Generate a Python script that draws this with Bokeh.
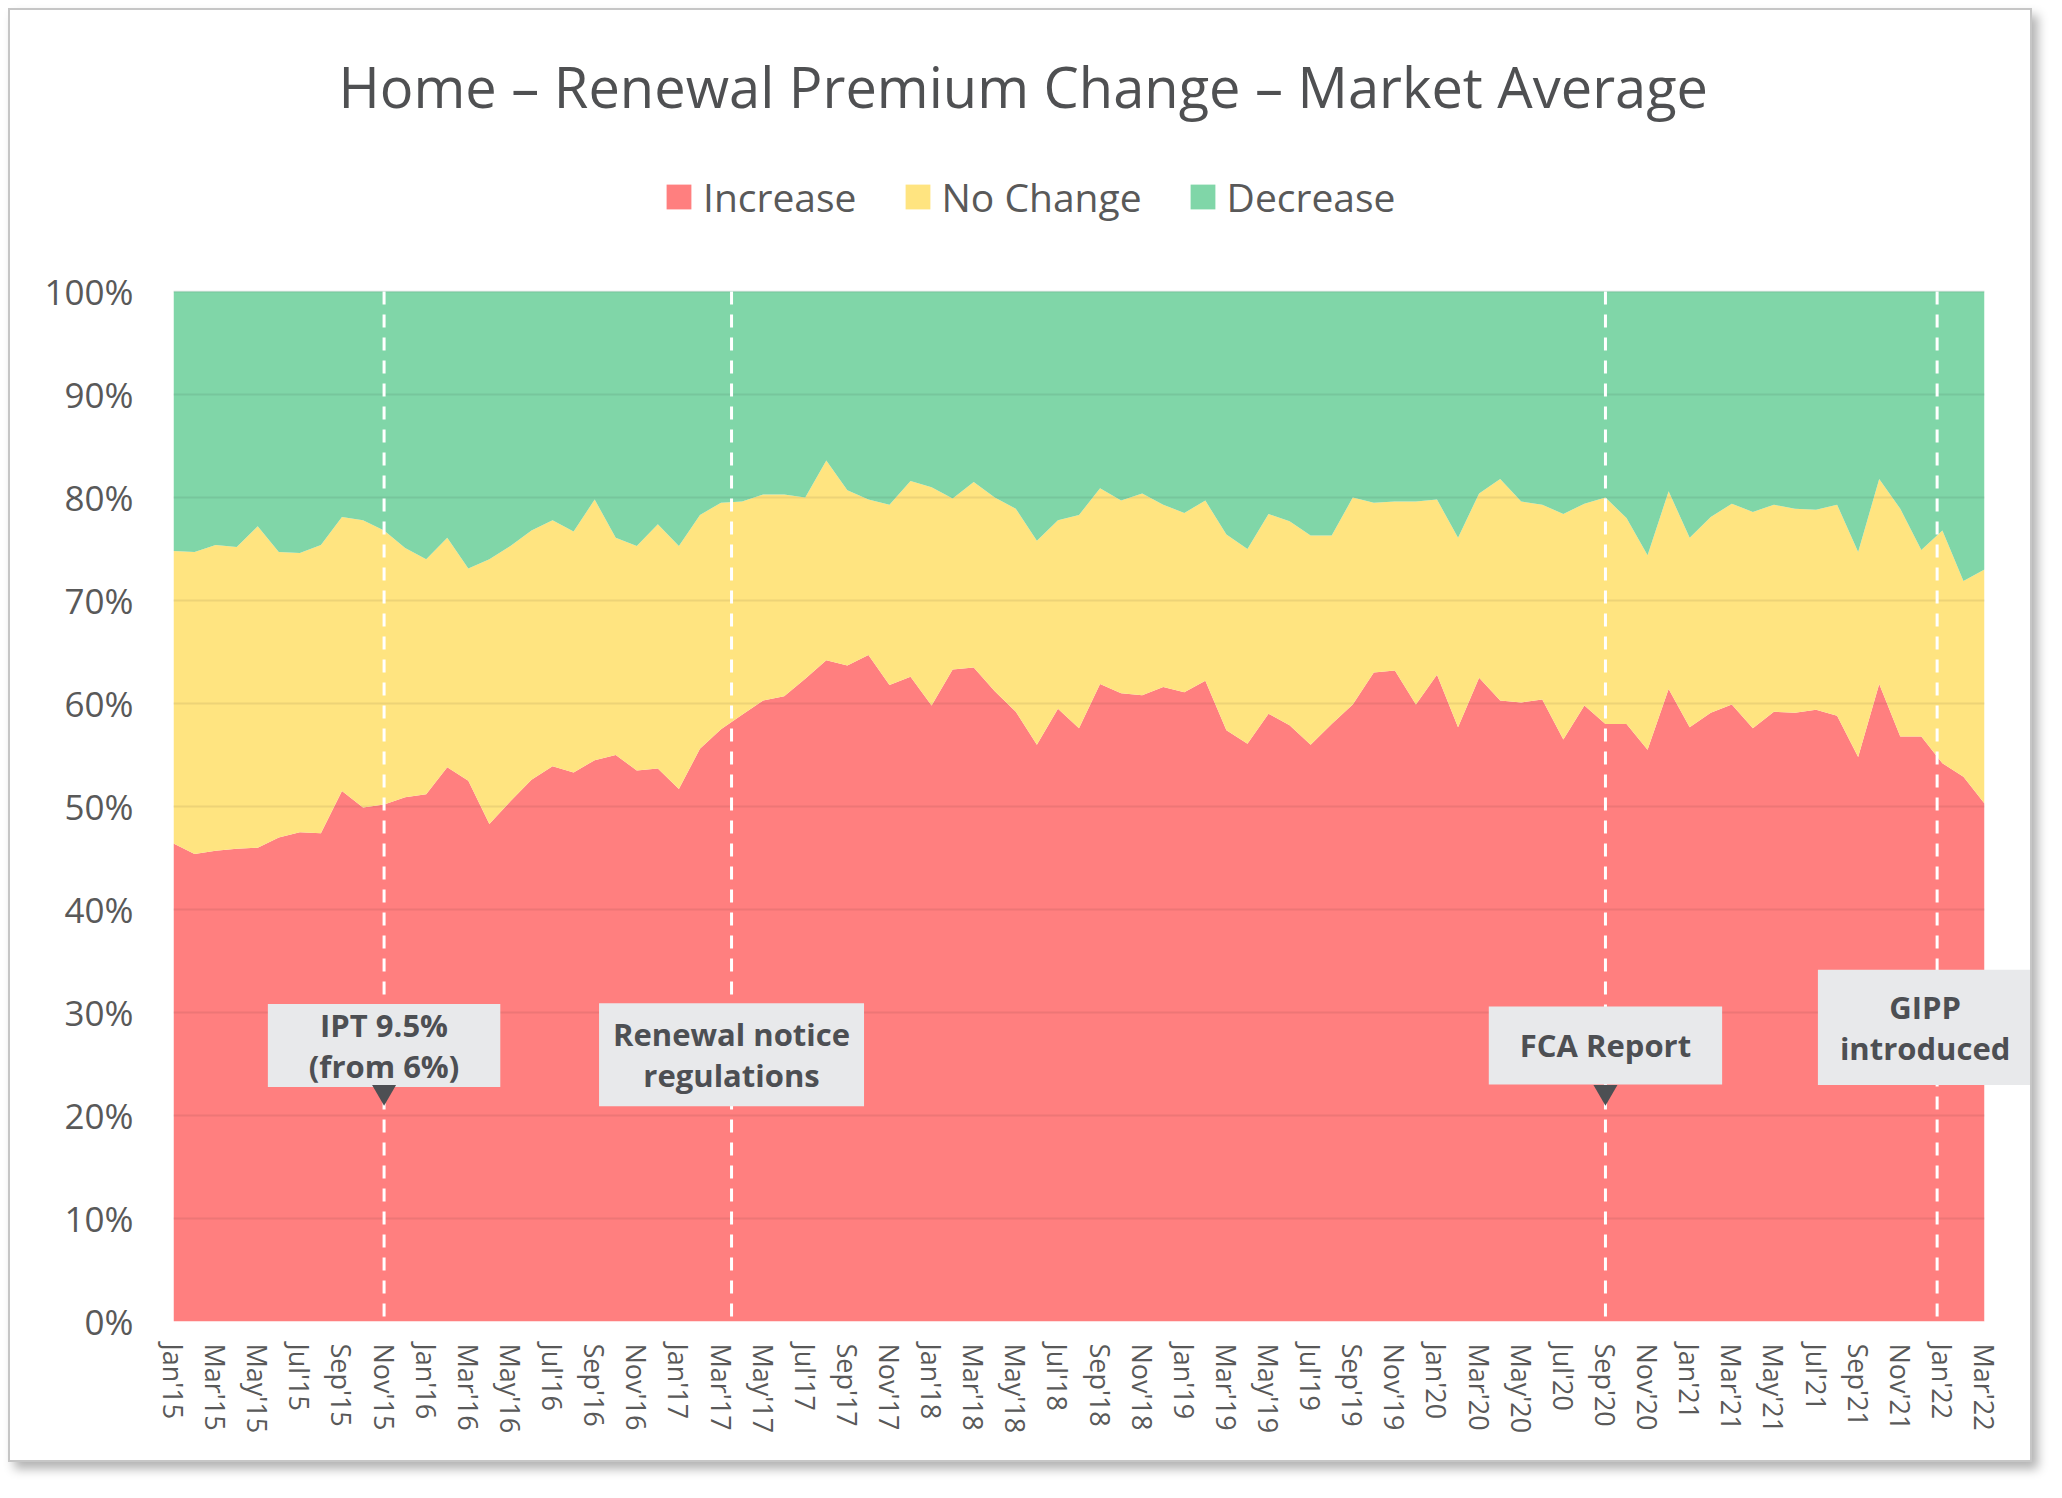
from bokeh.plotting import figure
from bokeh.models import (ColumnDataSource, FixedTicker, PrintfTickFormatter,
                          Label, Legend, LegendItem, Range1d, BoxAnnotation)
from bokeh.embed import file_html
from bokeh.resources import INLINE

# ---------------- data ----------------
month_names = ["Jan", "Feb", "Mar", "Apr", "May", "Jun", "Jul", "Aug", "Sep", "Oct", "Nov", "Dec"]
months = [f"{month_names[k % 12]}'{15 + k // 12}" for k in range(87)]   # Jan'15 .. Mar'22

increase = [46.4, 45.4, 45.7, 45.9, 46.0, 47.0, 47.5, 47.4, 51.5, 49.9,
            50.2, 50.9, 51.2, 53.8, 52.5, 48.3, 50.5, 52.6, 53.9, 53.3,
            54.5, 55.0, 53.5, 53.7, 51.7, 55.6, 57.5, 58.9, 60.3, 60.7,
            62.4, 64.2, 63.7, 64.7, 61.8, 62.6, 59.8, 63.3, 63.5, 61.2,
            59.2, 56.0, 59.5, 57.6, 61.9, 61.0, 60.8, 61.6, 61.1, 62.2,
            57.4, 56.1, 59.0, 57.9, 56.0, 58.0, 59.9, 63.0, 63.2, 59.9,
            62.8, 57.7, 62.5, 60.3, 60.1, 60.4, 56.5, 59.8, 58.0, 58.0,
            55.5, 61.4, 57.7, 59.1, 59.9, 57.6, 59.2, 59.1, 59.4, 58.8,
            54.8, 61.9, 56.8, 56.8, 54.2, 52.9, 50.3]
no_change = [28.4, 29.3, 29.7, 29.3, 31.2, 27.7, 27.1, 28.0, 26.6, 27.9,
             26.6, 24.2, 22.8, 22.3, 20.6, 25.7, 24.8, 24.2, 23.9, 23.4,
             25.3, 21.1, 21.8, 23.7, 23.6, 22.7, 22.0, 20.7, 20.0, 19.6,
             17.6, 19.4, 17.0, 15.1, 17.5, 19.0, 21.2, 16.6, 18.0, 18.8,
             19.7, 19.8, 18.3, 20.7, 19.0, 18.7, 19.6, 17.7, 17.4, 17.5,
             19.0, 18.9, 19.4, 19.8, 20.3, 18.3, 20.1, 16.5, 16.4, 19.7,
             17.0, 18.4, 17.9, 21.5, 19.5, 18.9, 21.9, 19.6, 22.0, 20.0,
             18.9, 19.2, 18.4, 19.0, 19.5, 21.0, 20.1, 19.8, 19.4, 20.5,
             19.9, 19.9, 22.1, 18.1, 22.6, 19.0, 22.7]
decrease = [25.2, 25.3, 24.6, 24.8, 22.8, 25.3, 25.4, 24.6, 21.9, 22.2,
            23.2, 24.9, 26.0, 23.9, 26.9, 26.0, 24.7, 23.2, 22.2, 23.3,
            20.2, 23.9, 24.7, 22.6, 24.7, 21.7, 20.5, 20.4, 19.7, 19.7,
            20.0, 16.4, 19.3, 20.2, 20.7, 18.4, 19.0, 20.1, 18.5, 20.0,
            21.1, 24.2, 22.2, 21.7, 19.1, 20.3, 19.6, 20.7, 21.5, 20.3,
            23.6, 25.0, 21.6, 22.3, 23.7, 23.7, 20.0, 20.5, 20.4, 20.4,
            20.2, 23.9, 19.6, 18.2, 20.4, 20.7, 21.6, 20.6, 20.0, 22.0,
            25.6, 19.4, 23.9, 21.9, 20.6, 21.4, 20.7, 21.1, 21.2, 20.7,
            25.3, 18.2, 21.1, 25.1, 23.2, 28.1, 27.0]

series_names = ["Increase", "No Change", "Decrease"]
series_colors = ["#FF7F7F", "#FFE480", "#80D6A8"]

event_x = [10, 26.5, 68, 83.75]          # Nov'15, Mar/Apr'17, Sep'20, Jan'22
event_text = ["IPT 9.5%\n(from 6%)", "Renewal notice\nregulations", "FCA Report", "GIPP\nintroduced"]
event_pointer = [True, False, True, False]

y_ticks = [0, 10, 20, 30, 40, 50, 60, 70, 80, 90, 100]

# ---------------- layout constants ----------------
n = len(months)
px_per_month = 1811 / (n - 1)
px_per_pct = 10.3
frame_w = 1859                  # extra room on the right for the GIPP callout
frame_h = 1191                  # extra room on top for the legend
min_left, min_right, min_top, min_bottom = 163, 2, 120, 143

src = ColumnDataSource(dict(x=list(range(n)), inc=increase, nc=no_change, dec=decrease))

p = figure(width=min_left + frame_w + min_right, height=min_top + frame_h + min_bottom,
           output_backend="svg", toolbar_location=None,
           x_range=Range1d(0, frame_w / px_per_month), y_range=Range1d(0, frame_h / px_per_pct),
           min_border_left=min_left, min_border_right=min_right,
           min_border_top=min_top, min_border_bottom=min_bottom)
p.styles = {"margin": "8px 0 0 8px", "border": "2px solid #C6C6C6",
            "box-shadow": "6px 7px 10px rgba(0,0,0,0.30)"}
p.outline_line_color = None
p.background_fill_color = "white"
p.border_fill_color = "white"

renderers = p.varea_stack(["inc", "nc", "dec"], x="x", source=src, color=series_colors)

# title
p.title.text = "Home \u2013 Renewal Premium Change \u2013 Market Average"
p.title.align = "left"
p.title.offset = 165
p.title.text_font = "Open Sans"
p.title.text_font_style = "normal"
p.title.text_font_size = "56px"
p.title.text_color = "#4F5052"
p.title.standoff = 13

# legend (inside the frame, above the 100% line)
legend = Legend(items=[LegendItem(label=nm, renderers=[r]) for nm, r in zip(series_names, renderers)],
                orientation="horizontal", location=(490, 1098),
                label_text_font="Open Sans", label_text_font_size="39px", label_text_color="#595959",
                glyph_width=31, glyph_height=31, label_standoff=9, spacing=45,
                padding=0, margin=0, border_line_color=None, background_fill_alpha=0)
p.add_layout(legend)

# grid
p.xgrid.grid_line_color = None
p.ygrid.ticker = FixedTicker(ticks=y_ticks)
p.ygrid.grid_line_color = "#000000"
p.ygrid.grid_line_alpha = 0.07
p.ygrid.grid_line_width = 2
p.ygrid.level = "guide"

# blank strip right of the last month (room for the GIPP callout)
p.add_layout(BoxAnnotation(left=n - 1, fill_color="white", fill_alpha=1, line_color=None))

# axes
p.yaxis.ticker = FixedTicker(ticks=y_ticks)
p.yaxis.formatter = PrintfTickFormatter(format="%d%%")
p.yaxis.axis_line_color = None
p.yaxis.major_tick_line_color = None
p.yaxis.minor_tick_line_color = None
p.yaxis.major_label_text_font = "Open Sans"
p.yaxis.major_label_text_font_size = "35px"
p.yaxis.major_label_text_color = "#595959"
p.yaxis.major_label_standoff = 34

p.xaxis.ticker = FixedTicker(ticks=list(range(0, n, 2)))
p.xaxis.major_label_overrides = {i: months[i] for i in range(0, n, 2)}
p.xaxis.major_label_orientation = "vertical"
p.xaxis.axis_line_color = None
p.xaxis.major_tick_line_color = None
p.xaxis.minor_tick_line_color = None
p.xaxis.major_tick_out = 0
p.xaxis.major_label_text_font = "Open Sans"
p.xaxis.major_label_text_font_size = "27px"
p.xaxis.major_label_text_color = "#595959"
p.xaxis.major_label_standoff = 22

# event lines (0% .. 100%)
p.segment(x0=event_x, y0=[100] * len(event_x), x1=event_x, y1=[0] * len(event_x),
          line_color="white", line_width=3, line_dash="13 10", level="annotation")

# pointers
px = [ex for ex, ptr in zip(event_x, event_pointer) if ptr]
p.scatter(x=px, y=[22.3] * len(px), marker="inverted_triangle", size=24,
          fill_color="#4D4F53", line_color=None, level="overlay")

# callout boxes  (padding order: left, right, top, bottom)
box_y = [26.8, 25.9, 26.8, 28.55]
box_off = [0, 0, 0, -12]
box_pad = [(41, 41, 0, 0), (14, 14, 10, 10), (31, 31, 18, 18), (22, 22, 16, 16)]
for ex, txt, by, bo, bp in zip(event_x, event_text, box_y, box_off, box_pad):
    p.add_layout(Label(x=ex, y=by, x_offset=bo, text=txt, text_align="center", text_baseline="middle",
                       text_font="Open Sans", text_font_style="bold", text_font_size="31px",
                       text_color="#4D4F53", text_line_height=0.98,
                       background_fill_color="#E8E9EB", padding=bp))

open("out.html", "w").write(file_html(p, INLINE))
